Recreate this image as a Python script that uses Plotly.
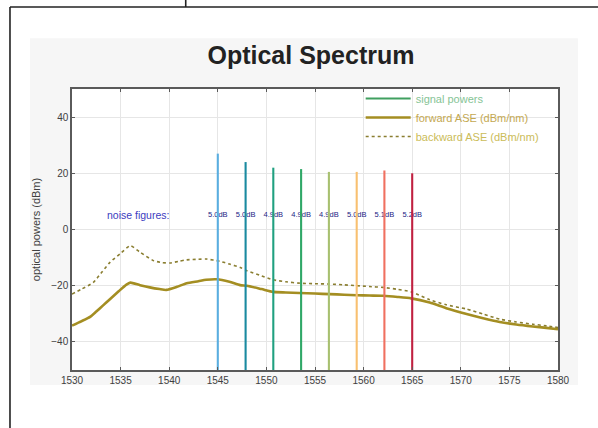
import plotly.graph_objects as go

# ---------------- data ----------------
fwd_wl = [1530, 1531.0, 1531.9, 1532.5, 1533.2, 1533.9, 1534.8, 1535.6, 1536.0, 1537.0, 1538.0,
          1539.0, 1539.7, 1540.8, 1541.8, 1543.0, 1543.8, 1544.9, 1546.2, 1547.3, 1548.0,
          1549.5, 1550.7, 1552.0, 1553.4, 1555.0, 1556.5, 1558.0, 1559.3, 1560.6, 1562.0,
          1563.5, 1564.9, 1566.8, 1568.5, 1570.6, 1572.3, 1574.0, 1575.7, 1577.4, 1578.8, 1580]
fwd_db = [-34.2, -32.6, -31.0, -29.2, -27.0, -24.8, -22.0, -19.6, -18.9, -19.8, -20.6,
          -21.2, -21.5, -20.4, -19.1, -18.4, -17.9, -17.7, -18.6, -19.8, -20.0,
          -21.2, -22.2, -22.4, -22.6, -22.8, -23.0, -23.2, -23.4, -23.5, -23.6,
          -24.0, -24.5, -26.0, -28.0, -30.1, -31.6, -32.9, -33.8, -34.5, -35.0, -35.5]

bwd_wl = [1530, 1531.0, 1532.2, 1533.0, 1533.9, 1535.0, 1536.0, 1537.0, 1538.4, 1539.3,
          1540.1, 1541.0, 1541.8, 1543.0, 1543.8, 1545.2, 1546.2, 1547.3, 1548.0, 1549.5,
          1550.7, 1552.0, 1553.4, 1555.0, 1556.5, 1558.0, 1559.3, 1560.6, 1562.0, 1563.5,
          1564.9, 1566.8, 1568.5, 1570.6, 1572.3, 1574.0, 1575.7, 1577.4, 1578.8, 1580]
bwd_db = [-23.0, -21.2, -18.8, -15.5, -11.7, -8.5, -5.8, -8.1, -11.1, -11.8,
          -11.9, -11.3, -10.8, -10.6, -10.5, -11.3, -12.3, -13.5, -14.7, -16.5,
          -17.9, -18.6, -19.1, -19.3, -19.4, -19.7, -20.0, -20.3, -20.6, -21.3,
          -22.2, -25.0, -26.8, -28.3, -30.1, -31.9, -32.9, -33.7, -34.3, -34.9]

sig_wl = [1545.0, 1547.86, 1550.71, 1553.57, 1556.43, 1559.29, 1562.14, 1565.0]
sig_dbm = [27.0, 24.0, 22.0, 21.5, 20.5, 20.5, 21.0, 20.0]
sig_colors = ["#5aaee0", "#1a8aa0", "#20a080", "#30a868", "#a8c070", "#f8c070", "#f07060", "#c02040"]

nf_level = 5.0
nf_labels = ["5.0dB", "5.0dB", "4.9dB", "4.9dB", "4.9dB", "5.0dB", "5.1dB", "5.2dB"]

x_ticks = [1530, 1535, 1540, 1545, 1550, 1555, 1560, 1565, 1570, 1575, 1580]
y_ticks = [-40, -20, 0, 20, 40]
y_floor = -50

# ---------------- figure ----------------
fig = go.Figure()

# legend-only entry for the signal group
fig.add_trace(go.Scatter(x=[None], y=[None], mode="lines",
                         line=dict(color="#40a060", width=2),
                         name="<span style='color:#86c496'>signal powers</span>"))

fig.add_trace(go.Scatter(x=fwd_wl, y=fwd_db, mode="lines",
                         line=dict(color="#a48e22", width=2.6, shape="spline", smoothing=0.6),
                         name="<span style='color:#c4a850'>forward ASE (dBm/nm)</span>"))
fig.add_trace(go.Scatter(x=bwd_wl, y=bwd_db, mode="lines",
                         line=dict(color="#8a7e30", width=1.6, dash="dot", shape="spline", smoothing=0.6),
                         name="<span style='color:#cbbc58'>backward ASE (dBm/nm)</span>"))

fig.add_trace(go.Scatter(x=sig_wl, y=[nf_level] * len(sig_wl), mode="text",
                         text=nf_labels, textposition="middle center",
                         textfont=dict(size=7.5, color="#1c1c84", family="Liberation Sans, Arial"),
                         showlegend=False, hoverinfo="skip"))

for wl, p, c in zip(sig_wl, sig_dbm, sig_colors):
    fig.add_trace(go.Scatter(x=[wl, wl], y=[y_floor, p], mode="lines",
                             line=dict(color=c, width=2.1), showlegend=False,
                             hoverinfo="skip"))

fig.add_annotation(x=1536.8, y=nf_level, text="noise figures:", showarrow=False,
                   xanchor="center", yanchor="middle",
                   font=dict(size=10.5, color="#3c3cc0", family="Liberation Sans, Arial"))

# page decoration: grey panel behind the figure, frame lines of the scanned page
shapes = [
    dict(type="rect", xref="paper", yref="paper", x0=-0.0864, x1=1.041, y0=-0.053, y1=1.181,
         fillcolor="#f6f6f6", line=dict(width=0), layer="below"),
    dict(type="rect", xref="paper", yref="paper", x0=0, x1=1, y0=0, y1=1,
         fillcolor="#ffffff", line=dict(width=0), layer="below"),
    dict(type="line", xref="paper", yref="paper", x0=-0.1276, x1=1.09, y0=1.2918, y1=1.2918,
         line=dict(color="#222222", width=1.6)),
    dict(type="line", xref="paper", yref="paper", x0=-0.1276, x1=-0.1276, y0=1.2918, y1=-0.25,
         line=dict(color="#222222", width=1.6)),
    dict(type="line", xref="paper", yref="paper", x0=0.234, x1=0.234, y0=1.2918, y1=1.33,
         line=dict(color="#222222", width=1.6)),
]

axis_common = dict(showline=True, linecolor="#5a5a5a", linewidth=1.5, mirror="ticks",
                   ticks="inside", ticklen=3, tickcolor="#5a5a5a",
                   showgrid=True, gridcolor="#e6e6e6", gridwidth=1, zeroline=False,
                   tickfont=dict(size=10, color="#404040", family="Liberation Sans, Arial"))

fig.update_layout(
    width=598, height=428,
    margin=dict(l=72, r=40, t=89, b=58),
    paper_bgcolor="#ffffff", plot_bgcolor="#ffffff",
    title=dict(text="<b>Optical Spectrum</b>", x=0.52, xanchor="center",
               y=0.872, yanchor="middle", yref="container",
               font=dict(size=25, color="#222222", family="Liberation Sans, Arial")),
    xaxis=dict(range=[1530, 1580], tickvals=x_ticks, **axis_common),
    yaxis=dict(range=[-50, 50], tickvals=y_ticks,
               title=dict(text="optical powers (dBm)", standoff=8,
                          font=dict(size=11, color="#404040", family="Liberation Sans, Arial")),
               **axis_common),
    legend=dict(x=0.594, y=1.018, xanchor="left", yanchor="top",
                bgcolor="rgba(255,255,255,0)", borderwidth=0,
                itemwidth=45,
                font=dict(size=11, family="Liberation Sans, Arial"),
                tracegroupgap=0),
    shapes=shapes,
    showlegend=True,
)

fig.write_html("out.html")
